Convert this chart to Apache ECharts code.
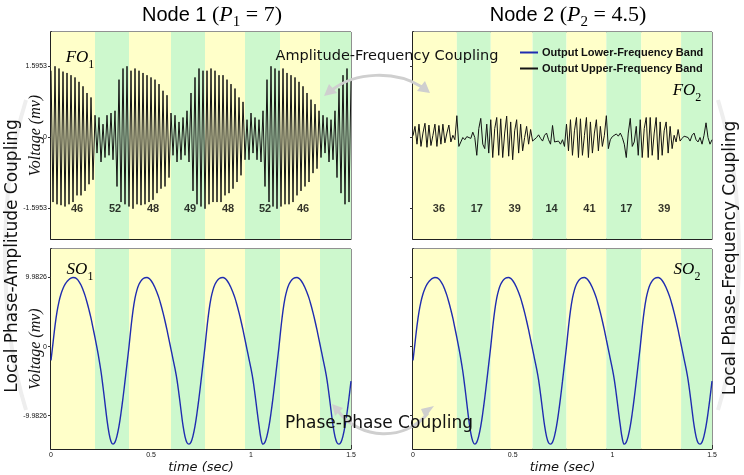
<!DOCTYPE html>
<html><head><meta charset="utf-8">
<script src="https://cdn.jsdelivr.net/npm/echarts@6/dist/echarts.min.js"></script>
<style>html,body{margin:0;padding:0;background:#fff}#c{width:744px;height:475px}</style>
</head><body><div id="c"></div>
<script>
// ---------- data ----------
const sampleStep = 0.01; // seconds between samples
const bandEdges = [0, 0.22, 0.39, 0.6, 0.77, 0.97, 1.145, 1.345, 1.5];
const labelTimes = [0.13, 0.32, 0.51, 0.695, 0.885, 1.07, 1.26];
const freqNode1 = [46, 52, 48, 49, 48, 52, 46];
const freqNode2 = [36, 17, 39, 14, 41, 17, 39];
const foTicks = [-1.5953, 0, 1.5953];
const soTicks = [-9.9826, 0, 9.9826];
const timeTicks = [0, 0.5, 1, 1.5];
const seriesNames = ['Output Lower-Frequency Band', 'Output Upper-Frequency Band'];

const fo1 = [1.5,-1.45,1.6,-1.5,1.55,
 -1.52,1.48,-1.55,1.45,-1.5,1.4,-1.45,
 1.35,-1.3,1.25,-1.3,1.15,-1.2,
 1.0,-1.05,0.9,-0.95,
 0.5,-0.35,0.45,-0.55,0.3,-0.45,0.5,-0.4,0.55,-0.5,0.6,
 -1.1,1.3,-1.45,
 1.55,-1.5,1.6,-1.55,1.5,-1.6,1.55,-1.5,1.5,-1.52,1.45,-1.5,1.4,-1.45,
 1.35,-1.4,1.3,-1.25,1.2,-1.15,
 1.05,-1.1,0.95,-0.9,
 0.55,-0.4,0.5,-0.55,0.35,-0.5,0.45,-0.4,0.6,-0.55,
 1.0,-1.2,1.35,
 -1.5,1.55,-1.55,1.5,-1.6,1.5,-1.5,1.55,-1.45,1.5,-1.45,1.4,-1.45,1.4,
 -1.3,1.3,-1.25,1.2,-1.15,1.1,
 -1.0,0.9,-0.85,0.8,
 -0.5,0.4,-0.5,0.55,-0.35,0.45,-0.5,0.4,-0.55,0.6,
 -1.1,1.3,-1.45,
 1.6,-1.55,1.55,-1.6,1.5,-1.55,1.55,-1.5,1.45,-1.5,1.4,-1.45,
 1.35,-1.3,1.25,-1.2,1.15,-1.1,1.0,-1.0,
 0.85,-0.8,0.75,-0.7,0.6,
 -0.45,0.5,-0.35,0.45,-0.55,0.4,-0.5,0.6,
 -0.9,1.1,-1.25,1.4,-1.5,1.55,-1.45,1.3];

const fo2 = [0.04,0.25,-0.15,0.3,-0.2,0.1,0.32,-0.22,0.28,-0.18,0.05,0.3,-0.2,0.27,-0.15,0.3,-0.12,0.1,0.28,-0.1,0.05,-0.05,
 0.49,-0.2,-0.1,0.0,-0.05,0.02,0.05,-0.02,0.12,0.0,-0.4,0.2,0.43,-0.15,-0.25,0.3,-0.35,
 0.4,-0.45,0.2,0.45,-0.4,0.42,-0.45,0.1,0.48,-0.42,0.35,-0.5,0.15,0.4,-0.35,0.3,-0.3,0.0,0.25,-0.15,
 0.18,-0.08,-0.05,0.0,0.06,-0.02,-0.08,0.05,0.1,-0.05,-0.15,0.27,-0.1,-0.12,-0.08,-0.15,-0.05,-0.2,
 0.3,-0.3,0.4,-0.4,0.15,0.45,-0.45,0.42,-0.4,0.05,0.45,-0.45,0.35,-0.35,0.1,0.4,-0.3,0.25,-0.2,0.05,
 0.49,-0.25,-0.05,0.02,0.05,0.08,0.03,0.1,0.0,-0.15,-0.45,0.1,0.43,-0.2,-0.1,0.25,
 -0.4,0.4,-0.45,0.2,0.45,-0.45,0.45,-0.4,0.1,0.45,-0.5,0.35,-0.4,0.15,0.35,-0.35,0.25,-0.25,0.05,-0.1,
 0.18,-0.08,-0.02,0.03,0.07,0.0,-0.08,0.05,0.1,-0.05,-0.1,0.0,-0.15,0.05,0.33,0.0,-0.15,-0.05];

const so1 = [-2.0,0.5,3.0,5.0,6.5,7.6,8.4,9.0,9.4,9.7,9.9,9.98,9.95,9.75,9.4,8.9,8.2,7.4,6.4,5.3,4.1,2.7,1.3,-0.2,-1.8,-3.6,-5.8,-8.2,-10.6,-12.5,-13.7,-14.1,
 -13.8,-12.9,-11.5,-9.6,-7.4,-5.0,-2.5,0.0,2.8,5.2,7.0,8.2,9.0,9.5,9.8,9.95,9.98,9.85,9.55,9.1,8.5,7.8,7.0,6.0,4.9,3.7,2.4,1.0,-0.4,-1.8,-3.2,-4.8,-6.9,-9.2,-11.4,-13.0,-13.9,-14.1,
 -13.8,-12.9,-11.5,-9.6,-7.4,-5.0,-2.5,0.0,2.8,5.2,7.0,8.2,9.0,9.5,9.8,9.95,9.98,9.85,9.55,9.1,8.5,7.8,7.0,6.0,4.9,3.7,2.4,1.0,-0.4,-1.8,-3.2,-4.8,-6.9,-9.2,-11.4,-13.3,-14.1,
 -13.8,-12.9,-11.5,-9.6,-7.4,-5.0,-2.5,0.0,2.8,5.2,7.0,8.2,9.0,9.5,9.8,9.95,9.98,9.85,9.55,9.1,8.5,7.8,7.0,6.0,4.9,3.7,2.4,1.0,-0.4,-1.8,-3.2,-4.8,-6.9,-9.2,-11.4,-13.0,-13.9,-14.1,
 -13.8,-12.9,-11.5,-9.6,-7.4,-5.0];
// the lower-frequency output of node 2 is drawn identical to node 1 in the picture
const so2 = so1.slice();

// ---------- styling ----------
const YELLOW = '#FFFFC9', GREEN = '#CDF8CD';
const BLUE = '#1f2cb0', BLACK = '#141414';
const grids = [
  {left: 51, top: 32, width: 300, height: 207},
  {left: 413, top: 32, width: 299, height: 207},
  {left: 51, top: 249, width: 300, height: 207},
  {left: 413, top: 249, width: 299, height: 207}
];
const toPairs = arr => arr.map((v, i) => [Math.round(i * sampleStep * 1000) / 1000, v]);
const bandArea = bandEdges.slice(0, -1).map((e, i) => [
  {xAxis: e, itemStyle: {color: i % 2 === 0 ? YELLOW : GREEN}},
  {xAxis: bandEdges[i + 1]}
]);

const xAxes = grids.map((g, i) => {
  const bottom = i >= 2;
  return {
    type: 'value', gridIndex: i, min: 0, max: 1.5, interval: 0.5,
    splitLine: {show: false},
    axisLine: {show: true, onZero: false, lineStyle: {color: '#222', width: 1}},
    axisTick: {show: bottom, inside: true, length: 4, lineStyle: {color: '#333'}, customValues: timeTicks},
    axisLabel: {show: bottom, fontSize: 7, margin: 3, color: '#111', fontFamily: 'Liberation Sans', customValues: timeTicks,
      formatter: v => String(v)},
    name: bottom ? 'time (sec)' : '', nameLocation: 'middle', nameGap: 12, nameMoveOverlap: false,
    nameTextStyle: {fontStyle: 'italic', fontSize: 13, fontFamily: 'DejaVu Sans', color: '#111'}
  };
});
const yAxes = grids.map((g, i) => {
  const fo = i < 2;
  const ticks = fo ? foTicks : soTicks;
  const left = i % 2 === 0;
  return {
    type: 'value', gridIndex: i,
    min: fo ? -2.28 : -14.8, max: fo ? 2.37 : 14.1,
    splitLine: {show: false},
    axisLine: {show: true, lineStyle: {color: '#222', width: 2}},
    axisTick: {show: true, length: 3, lineStyle: {color: '#333'}, customValues: ticks},
    axisLabel: {show: left, fontSize: 7, margin: 4, color: '#111', fontFamily: 'Liberation Sans', customValues: ticks},
    name: left ? 'Voltage (mv)' : '', nameLocation: 'middle', nameGap: 7, nameMoveOverlap: false,
    nameTextStyle: {fontStyle: 'italic', fontSize: 16, fontFamily: 'Liberation Serif', color: '#111'}
  };
});

function signal(name, data, idx, color, width, smooth) {
  return {
    type: 'line', name, xAxisIndex: idx, yAxisIndex: idx, data: toPairs(data),
    showSymbol: false, symbol: 'none', smooth, z: 3,
    lineStyle: {color, width}, itemStyle: {color},
    markArea: {silent: true, z: 1, data: bandArea},
    animation: false
  };
}
function freqLabels(values, idx) {
  return {
    type: 'scatter', name: 'freq' + idx, xAxisIndex: idx, yAxisIndex: idx, z: 5,
    data: labelTimes.map((t, i) => [t, foTicks[0], values[i]]),
    symbolSize: 1, itemStyle: {color: 'rgba(0,0,0,0)'},
    label: {show: true, position: 'inside', formatter: p => String(p.value[2]),
      fontWeight: 'bold', fontSize: 11, fontFamily: 'Liberation Sans', color: '#000'},
    animation: false
  };
}

const subRich = (size) => ({
  i: {fontFamily: 'Liberation Serif', fontStyle: 'italic', fontSize: size, lineHeight: size + 8, color: '#111'},
  m: {fontFamily: 'Liberation Serif', fontSize: size, lineHeight: size + 8, color: '#111'},
  a: {fontFamily: 'Liberation Sans', fontSize: size - 2, lineHeight: size + 8, color: '#111'},
  s: {fontFamily: 'Liberation Serif', fontSize: Math.round(size * 0.68), lineHeight: size + 8, verticalAlign: 'bottom', color: '#111'}
});
function richText(x, y, text, size, extra) {
  return Object.assign({type: 'text', x, y, z: 20,
    style: {text, rich: subRich(size), align: 'center', verticalAlign: 'middle'}}, extra || {});
}
function plainText(x, y, text, size, rotation) {
  return {type: 'text', x, y, rotation: rotation || 0, z: 20,
    style: {text, fontFamily: 'DejaVu Sans', fontSize: size, fill: '#111', align: 'center', verticalAlign: 'middle'}};
}
const arrowGray = '#cfcfcf';
function head(points) { return {type: 'polygon', z: 15, shape: {points}, style: {fill: arrowGray}}; }

const graphics = [
  richText(212, 15, '{a|Node 1 }{m|(}{i|P}{s|1}{m| = 7)}', 22),
  richText(568, 15, '{a|Node 2 }{m|(}{i|P}{s|2}{m| = 4.5)}', 22),
  richText(80, 58, '{i|FO}{s|1}', 17),
  richText(687, 91, '{i|FO}{s|2}', 17),
  richText(80, 270, '{i|SO}{s|1}', 17),
  richText(687, 270, '{i|SO}{s|2}', 17),
  // faint side arcs
  {type: 'bezierCurve', z: 10, shape: {x1: 26, y1: 100, cpx1: -2, cpy1: 190, cpx2: -2, cpy2: 320, x2: 26, y2: 410}, style: {stroke: '#eeeeee', lineWidth: 4, fill: null}},
  {type: 'bezierCurve', z: 10, shape: {x1: 718, y1: 100, cpx1: 746, cpy1: 190, cpx2: 746, cpy2: 320, x2: 718, y2: 410}, style: {stroke: '#eeeeee', lineWidth: 4, fill: null}},
  // amplitude-frequency arrow
  {type: 'bezierCurve', z: 15, shape: {x1: 332, y1: 90, cpx1: 355, cpy1: 72, cpx2: 395, cpy2: 70, x2: 422, y2: 87}, style: {stroke: arrowGray, lineWidth: 3, fill: null}},
  head([[324, 96], [329, 84], [337, 93]]),
  head([[430, 93], [417, 91], [425, 81]]),
  // phase-phase arrow
  {type: 'bezierCurve', z: 15, shape: {x1: 338, y1: 411, cpx1: 360, cpy1: 440, cpx2: 405, cpy2: 442, x2: 428, y2: 413}, style: {stroke: arrowGray, lineWidth: 3, fill: null}},
  head([[332, 404], [343, 408], [335, 416]]),
  head([[434, 406], [425, 418], [421, 409]]),
  plainText(387, 56, 'Amplitude-Frequency Coupling', 14.5),
  plainText(379, 424, 'Phase-Phase Coupling', 17),
  plainText(13, 256, 'Local Phase-Amplitude Coupling', 17, Math.PI / 2),
  plainText(731, 258, 'Local Phase-Frequency Coupling', 17, Math.PI / 2)
];

const option = {
  animation: false,
  backgroundColor: '#fff',
  grid: grids.map(g => Object.assign({show: true, borderColor: '#222', borderWidth: 1, backgroundColor: 'transparent'}, g)),
  xAxis: xAxes,
  yAxis: yAxes,
  legend: {
    data: seriesNames, orient: 'vertical', left: 515, top: 42, itemGap: 5,
    itemWidth: 18, itemHeight: 2, icon: 'rect', selectedMode: false,
    textStyle: {fontFamily: 'Liberation Sans', fontWeight: 'bold', fontSize: 11, color: '#111', padding: [0, 0, 0, -1]}
  },
  series: [
    signal(seriesNames[1], fo1, 0, BLACK, 1, false),
    signal(seriesNames[1], fo2, 1, BLACK, 1, false),
    signal(seriesNames[0], so1, 2, BLUE, 1.4, 0.4),
    signal(seriesNames[0], so2, 3, BLUE, 1.4, 0.4),
    freqLabels(freqNode1, 0),
    freqLabels(freqNode2, 1)
  ],
  graphic: graphics
};
const chart = echarts.init(document.getElementById('c'), null, {renderer: 'canvas'});
chart.setOption(option);
</script></body></html>
